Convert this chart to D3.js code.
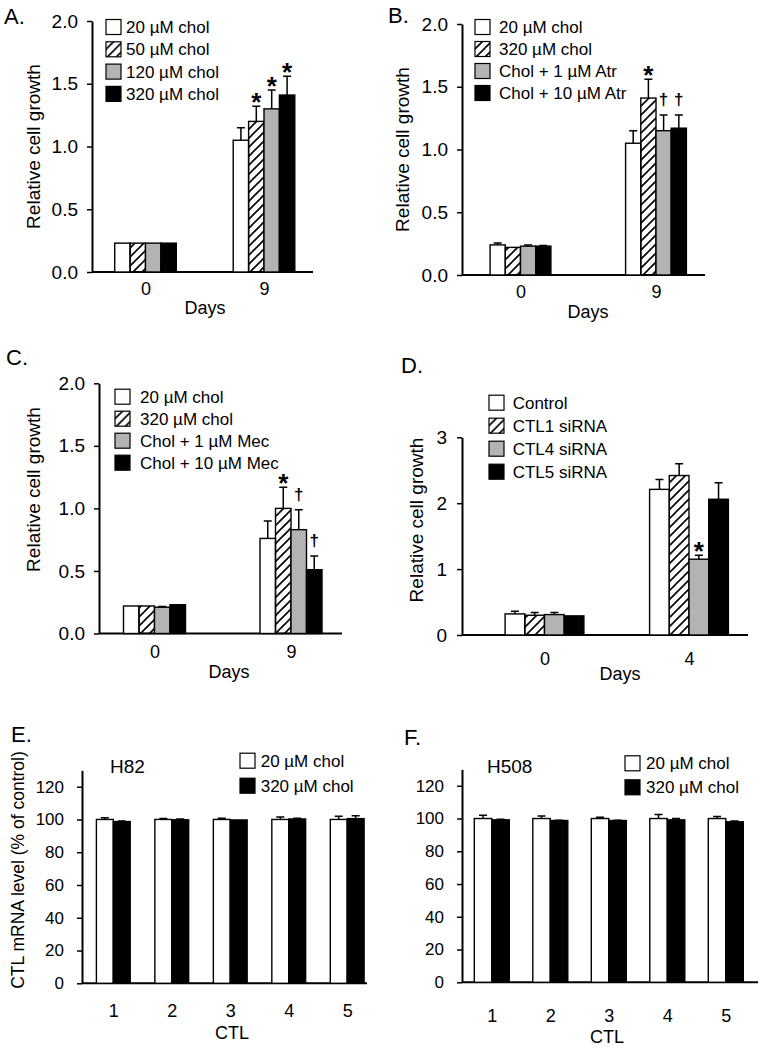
<!DOCTYPE html>
<html>
<head>
<meta charset="utf-8">
<script src="https://cdn.jsdelivr.net/npm/d3@7"></script>
<style>
  body { margin: 0; background: #fff; }
  svg { font-family: "Liberation Sans", Arial, sans-serif; }
  text { fill: #000; }
</style>
</head>
<body>
<svg id="fig" width="760" height="1050"></svg>
<script>
// ---- data ----
var aDays = ["0", "9"];
var aSeries = ["20 µM chol", "50 µM chol", "120 µM chol", "320 µM chol"];
var aMean = [[0.23, 0.23, 0.23, 0.23], [1.05, 1.20, 1.30, 1.41]];
var aErr = [[0, 0, 0, 0], [0.10, 0.12, 0.15, 0.15]];
var aMarks = [["", "", "", ""], ["", "*", "*", "*"]];

var bDays = ["0", "9"];
var bSeries = ["20 µM chol", "320 µM chol", "Chol + 1 µM Atr", "Chol + 10 µM Atr"];
var bMean = [[0.24, 0.22, 0.23, 0.23], [1.05, 1.41, 1.15, 1.17]];
var bErr = [[0.015, 0, 0.01, 0.005], [0.10, 0.15, 0.125, 0.105]];
var bMarks = [["", "", "", ""], ["", "*", "†", "†"]];

var cDays = ["0", "9"];
var cSeries = ["20 µM chol", "320 µM chol", "Chol + 1 µM Mec", "Chol + 10 µM Mec"];
var cMean = [[0.22, 0.22, 0.21, 0.23], [0.76, 1.00, 0.83, 0.51]];
var cErr = [[0, 0, 0.005, 0], [0.14, 0.17, 0.16, 0.11]];
var cMarks = [["", "", "", ""], ["", "*", "†", "†"]];

var dDays = ["0", "4"];
var dSeries = ["Control", "CTL1 siRNA", "CTL4 siRNA", "CTL5 siRNA"];
var dMean = [[0.32, 0.30, 0.31, 0.29], [2.21, 2.42, 1.15, 2.06]];
var dErr = [[0.04, 0.04, 0.03, 0], [0.15, 0.18, 0.06, 0.25]];
var dMarks = [["", "", "", ""], ["", "", "*", ""]];

var ctlGenes = ["1", "2", "3", "4", "5"];
var cholSeries = ["20 µM chol", "320 µM chol"];
var h82Low = [100, 100, 100, 100, 100];
var h82LowErr = [1.0, 0.6, 0.8, 1.5, 2.0];
var h82High = [98.7, 99.8, 99.7, 100.3, 100.5];
var h82HighErr = [0.4, 0.5, 0, 0.4, 1.8];
var h508Low = [100, 100, 100, 100, 100];
var h508LowErr = [2.0, 1.5, 0.8, 2.5, 1.2];
var h508High = [99.2, 98.8, 98.8, 99.2, 98.0];
var h508HighErr = [0.3, 0.2, 0.2, 0.8, 0.5];

var svg = d3.select("#fig");
svg.append("rect").attr("width", 760).attr("height", 1050).attr("fill", "#fff");

svg.append("defs").append("pattern")
    .attr("id", "hatch")
    .attr("patternUnits", "userSpaceOnUse")
    .attr("width", 9).attr("height", 9)
  .append("path")
    .attr("d", "M-1,1 l2,-2 M0,9 l9,-9 M8,10 l2,-2")
    .attr("stroke", "#000")
    .attr("stroke-width", 1.6);

var growthFills = ["#fff", "url(#hatch)", "#b3b3b3", "#000"];
var cholFills = ["#fff", "#000"];

function barPanel(p) {
    var g = svg.append("g");
    var y = d3.scaleLinear().domain([0, p.yMax]).range([p.bottom, p.top]);
    var x = d3.scalePoint().domain(p.groups).range([p.c0, p.c1]);
    var n = p.series.length;
    var xs = d3.scaleBand().domain(d3.range(n)).range([-p.barW * n / 2, p.barW * n / 2]);

    // y axis
    var ya = g.append("g")
        .attr("transform", "translate(" + p.left + ",0)")
        .call(d3.axisLeft(y).tickValues(p.ticks).tickFormat(d3.format(p.fmt))
            .tickSize(5).tickSizeOuter(0).tickPadding(p.yPad));
    ya.select(".domain").attr("stroke-width", 2);
    ya.selectAll(".tick line").attr("stroke-width", 1.5);
    ya.selectAll(".tick text").attr("font-size", p.yFont).attr("fill", "#000");

    // x axis: full-width baseline plus category labels
    var xa = g.append("g")
        .attr("transform", "translate(0," + p.bottom + ")")
        .call(d3.axisBottom(x).tickSize(0).tickPadding(p.xPad));
    xa.select(".domain").remove();
    xa.selectAll(".tick text").attr("font-size", 18).attr("fill", "#000");
    g.append("line")
        .attr("x1", p.left).attr("x2", p.right)
        .attr("y1", p.bottom).attr("y2", p.bottom)
        .attr("stroke", "#000").attr("stroke-width", 2);

    var cells = [];
    p.groups.forEach(function(grp, gi) {
        p.series.forEach(function(s, si) {
            cells.push({grp: grp, si: si, v: p.mean[gi][si], e: p.err[gi][si],
                        mark: p.marks ? p.marks[gi][si] : ""});
        });
    });

    var cx = function(d) { return x(d.grp) + xs(d.si) + p.barW / 2; };

    g.selectAll("rect.bar")
        .data(cells)
        .join("rect")
        .attr("class", "bar")
        .attr("x", function(d) { return x(d.grp) + xs(d.si); })
        .attr("width", p.barW)
        .attr("y", function(d) { return y(d.v); })
        .attr("height", function(d) { return p.bottom - y(d.v); })
        .attr("fill", function(d) { return p.fills[d.si]; })
        .attr("stroke", "#000")
        .attr("stroke-width", 1.4);

    var withErr = cells.filter(function(d) { return d.e > 0; });
    g.selectAll("path.err")
        .data(withErr)
        .join("path")
        .attr("class", "err")
        .attr("d", function(d) {
            var c = cx(d), t = y(d.v + d.e);
            return "M" + c + "," + y(d.v) + "V" + t + "M" + (c - 4) + "," + t + "H" + (c + 4);
        })
        .attr("fill", "none")
        .attr("stroke", "#000")
        .attr("stroke-width", 1.5);

    g.selectAll("text.mark")
        .data(cells.filter(function(d) { return d.mark; }))
        .join("text")
        .attr("class", "mark")
        .attr("x", cx)
        .attr("y", function(d) {
            var t = y(d.v + d.e);
            return d.mark === "*" ? t + 5 : t - 10;
        })
        .attr("text-anchor", "middle")
        .attr("font-size", function(d) { return d.mark === "*" ? 26 : 17; })
        .attr("font-weight", "bold")
        .attr("fill", "#000")
        .text(function(d) { return d.mark; });

    // legend
    var leg = g.selectAll("g.leg")
        .data(p.series)
        .join("g")
        .attr("class", "leg")
        .attr("transform", function(d, i) { return "translate(" + p.legX + "," + (p.legY + i * p.legDy) + ")"; });
    leg.append("rect")
        .attr("x", 0).attr("y", -7.5).attr("width", 15).attr("height", 15)
        .attr("fill", function(d, i) { return p.fills[i]; })
        .attr("stroke", "#000").attr("stroke-width", 1.2);
    leg.append("text")
        .attr("x", p.legTx).attr("dy", "0.35em")
        .attr("font-size", p.legFont)
        .text(function(d) { return d; });

    // titles
    g.append("text")
        .attr("x", p.xLab[0]).attr("y", p.xLab[1]).attr("dy", "0.35em")
        .attr("text-anchor", "middle").attr("font-size", 18)
        .text(p.xTitle);
    if (p.yTitle) {
        g.append("text")
            .attr("transform", "translate(" + p.yLab[0] + "," + p.yLab[1] + ") rotate(-90)")
            .attr("dy", "0.35em")
            .attr("text-anchor", "middle").attr("font-size", p.yLabFont)
            .text(p.yTitle);
    }
    g.append("text")
        .attr("x", p.letter[0]).attr("y", p.letter[1])
        .attr("font-size", 22)
        .text(p.letterText);
    if (p.cell) {
        g.append("text")
            .attr("x", p.cell[0]).attr("y", p.cell[1])
            .attr("font-size", 19)
            .text(p.cellText);
    }
}

var growthTicks = [0, 0.5, 1, 1.5, 2];

barPanel({groups: aDays, series: aSeries, mean: aMean, err: aErr, marks: aMarks, fills: growthFills,
    left: 92, right: 313, top: 21, bottom: 272, yMax: 2, ticks: growthTicks, fmt: ".1f",
    c0: 145.5, c1: 264, barW: 15.4, yPad: 9, xPad: 10, yFont: 19,
    legX: 106, legY: 27, legDy: 22.3, legTx: 20, legFont: 17,
    xTitle: "Days", xLab: [205, 308], yTitle: "Relative cell growth", yLab: [33, 146.5], yLabFont: 19,
    letterText: "A.", letter: [4, 24]});

barPanel({groups: bDays, series: bSeries, mean: bMean, err: bErr, marks: bMarks, fills: growthFills,
    left: 462, right: 705, top: 24, bottom: 275, yMax: 2, ticks: growthTicks, fmt: ".1f",
    c0: 520.5, c1: 656, barW: 15.2, yPad: 9, xPad: 10.4, yFont: 19,
    legX: 475, legY: 27, legDy: 22, legTx: 24, legFont: 17,
    xTitle: "Days", xLab: [588, 311.7], yTitle: "Relative cell growth", yLab: [402, 149.5], yLabFont: 19,
    letterText: "B.", letter: [388, 23]});

barPanel({groups: cDays, series: cSeries, mean: cMean, err: cErr, marks: cMarks, fills: growthFills,
    left: 99, right: 342, top: 383.3, bottom: 633.5, yMax: 2, ticks: growthTicks, fmt: ".1f",
    c0: 154.5, c1: 291, barW: 15.5, yPad: 9, xPad: 11.9, yFont: 19,
    legX: 115, legY: 396.7, legDy: 22, legTx: 25, legFont: 17,
    xTitle: "Days", xLab: [229, 671.7], yTitle: "Relative cell growth", yLab: [33, 489.5], yLabFont: 19,
    letterText: "C.", letter: [6, 365]});

barPanel({groups: dDays, series: dSeries, mean: dMean, err: dErr, marks: dMarks, fills: growthFills,
    left: 462, right: 748, top: 437.3, bottom: 635, yMax: 3, ticks: [0, 1, 2, 3], fmt: "d",
    c0: 544.5, c1: 689, barW: 19.7, yPad: 10, xPad: 17, yFont: 19,
    legX: 489, legY: 402.7, legDy: 23, legTx: 23.7, legFont: 17,
    xTitle: "Days", xLab: [620, 673.3], yTitle: "Relative cell growth", yLab: [416.7, 520], yLabFont: 19,
    letterText: "D.", letter: [401, 373]});

var ctlTicks = [0, 20, 40, 60, 80, 100, 120];

barPanel({groups: ctlGenes, series: cholSeries,
    mean: ctlGenes.map(function(c, i) { return [h82Low[i], h82High[i]]; }),
    err: ctlGenes.map(function(c, i) { return [h82LowErr[i], h82HighErr[i]]; }),
    fills: cholFills,
    left: 82, right: 367, top: 770.3, bottom: 983.3, yMax: 130, ticks: ctlTicks, fmt: "d",
    c0: 113.3, c1: 347.2, barW: 16.9, yPad: 13, xPad: 21, yFont: 17,
    legX: 240, legY: 760.7, legDy: 25, legTx: 20.7, legFont: 17,
    xTitle: "CTL", xLab: [232, 1033], yTitle: "CTL mRNA level (% of control)", yLab: [18, 870], yLabFont: 17.5,
    letterText: "E.", letter: [11, 742], cellText: "H82", cell: [110, 773]});

barPanel({groups: ctlGenes, series: cholSeries,
    mean: ctlGenes.map(function(c, i) { return [h508Low[i], h508High[i]]; }),
    err: ctlGenes.map(function(c, i) { return [h508LowErr[i], h508HighErr[i]]; }),
    fills: cholFills,
    left: 462, right: 758, top: 769.4, bottom: 982.3, yMax: 130, ticks: ctlTicks, fmt: "d",
    c0: 491.8, c1: 725.8, barW: 17.5, yPad: 13, xPad: 26.7, yFont: 17,
    legX: 625, legY: 763.3, legDy: 24, legTx: 21, legFont: 17,
    xTitle: "CTL", xLab: [607, 1036.7],
    letterText: "F.", letter: [404, 745], cellText: "H508", cell: [487, 773]});
</script>
</body>
</html>
